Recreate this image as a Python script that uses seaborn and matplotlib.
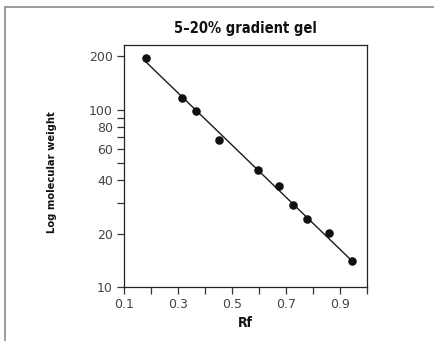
import matplotlib
matplotlib.use("Agg")
import matplotlib.pyplot as plt
import seaborn as sns
import pandas as pd
from matplotlib.ticker import FixedLocator, NullFormatter

# data
rf = [0.180, 0.316, 0.366, 0.452, 0.596, 0.674, 0.726, 0.779, 0.857, 0.943]
mol_weight = [197, 117, 99, 67.5, 45.7, 37.0, 29.1, 24.3, 20.2, 14.1]
fit_rf = [0.180, 0.943]
fit_mw = [187, 14.1]
xticks_major = [0.1, 0.3, 0.5, 0.7, 0.9]
xticks_minor = [0.2, 0.4, 0.6, 0.8, 1.0]
yticks_major = [10, 20, 40, 60, 80, 100, 200]
yticks_minor = [30, 50, 70, 90]
title = "5\u201320% gradient gel"
xlabel = "Rf"
ylabel = "Log molecular weight"

df = pd.DataFrame({"Rf": rf, "MW": mol_weight})
fit_df = pd.DataFrame({"Rf": fit_rf, "MW": fit_mw})

sns.set_theme(style="ticks")
plt.rcParams["font.family"] = ["DejaVu Sans"]

fig = plt.figure(figsize=(4.35, 3.41), dpi=100)
ax = fig.add_axes([0.285, 0.158, 0.559, 0.710])

sns.lineplot(data=fit_df, x="Rf", y="MW", ax=ax, color="#1a1a1a", linewidth=1.0)
sns.scatterplot(data=df, x="Rf", y="MW", ax=ax, color="#111111", s=38,
                edgecolor="#111111", linewidth=0, zorder=3)

ax.set_yscale("log")
ax.set_xlim(0.1, 1.0)
ax.set_ylim(10, 232)

ax.xaxis.set_major_locator(FixedLocator(xticks_major))
ax.xaxis.set_minor_locator(FixedLocator(xticks_minor))
ax.set_xticklabels([f"{v:.1f}" for v in xticks_major])
ax.yaxis.set_major_locator(FixedLocator(yticks_major))
ax.yaxis.set_minor_locator(FixedLocator(yticks_minor))
ax.yaxis.set_minor_formatter(NullFormatter())
ax.set_yticklabels([str(v) for v in yticks_major])

ax.tick_params(axis="both", which="both", direction="out", length=5, width=0.9,
               color="#333333", labelsize=9, labelcolor="#444444", pad=3)

for s in ax.spines.values():
    s.set_visible(True)
    s.set_color("#222222")
    s.set_linewidth(0.9)

bold_kw = dict(fontweight="bold", family="DejaVu Sans", fontstretch="condensed", color="#111111")
ax.set_title(title, fontsize=10.5, pad=9, **bold_kw)
ax.set_xlabel(xlabel, fontsize=10, **bold_kw)
ax.set_ylabel(ylabel, fontsize=8, **bold_kw)
ax.xaxis.set_label_coords(0.5, -0.118)
ax.yaxis.set_label_coords(-0.276, 0.475)

# outer frame (partially visible box)
fig.add_artist(plt.Line2D([5 / 435, 5 / 435], [0, 1 - 7 / 341], transform=fig.transFigure,
                          color="#8a8a8a", linewidth=1.2))
fig.add_artist(plt.Line2D([5 / 435, 1], [1 - 7 / 341, 1 - 7 / 341], transform=fig.transFigure,
                          color="#8a8a8a", linewidth=1.2))

fig.savefig("out.png", dpi=100)
